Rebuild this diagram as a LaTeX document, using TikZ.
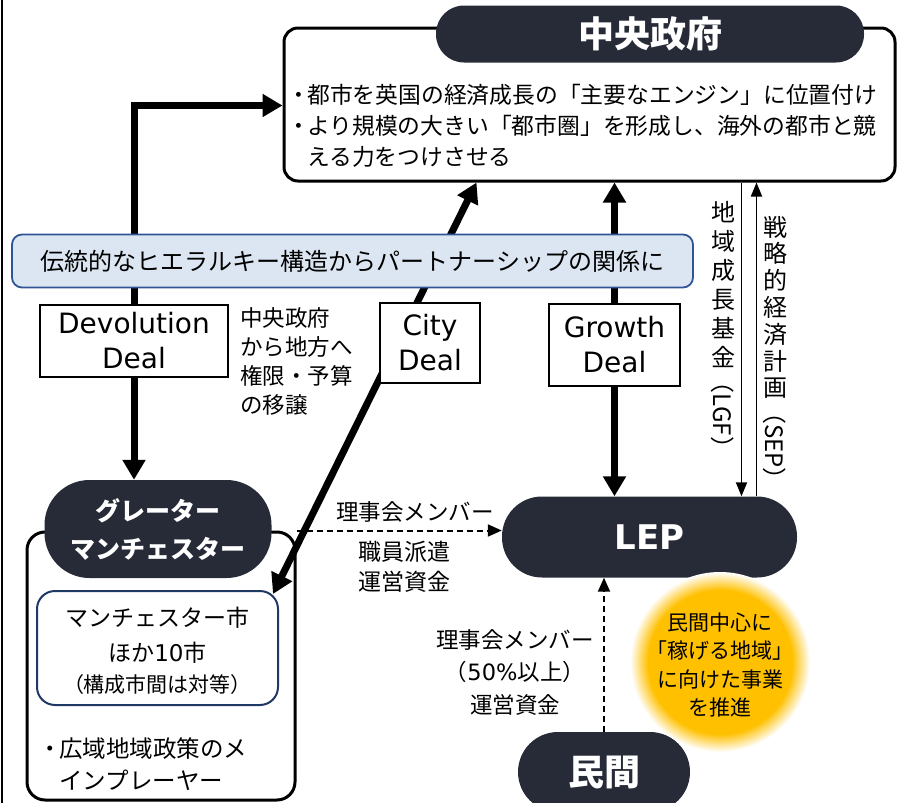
\documentclass[tikz,border=0pt]{standalone}
\usepackage{fontspec}
\setmainfont{Noto Sans CJK JP}
\newfontfamily\latinfont{DejaVu Sans}
\usetikzlibrary{arrows.meta,backgrounds}
\definecolor{pillnavy}{RGB}{38,43,55}
\definecolor{bannerfill}{RGB}{220,230,242}
\definecolor{bannerdraw}{RGB}{47,85,151}
\definecolor{citynavy}{RGB}{31,56,100}
\definecolor{glowgold}{RGB}{255,192,0}
\pgfdeclareradialshading{glow}{\pgfpoint{0bp}{0bp}}{color(0bp)=(glowgold); color(20bp)=(glowgold); color(25bp)=(white); color(50bp)=(white)}
\newcommand{\fs}[2]{\fontsize{#1}{#2}\selectfont}
\newcommand{\jbul}{\makebox[17pt][c]{・}}

\begin{document}
\begin{tikzpicture}[x=1pt,y=-1pt,
	pill/.style={rectangle,rounded corners=#1,fill=pillnavy,text=white,inner sep=0pt,align=center},
	roundbox/.style={rectangle,draw,line width=3pt,rounded corners=#1,inner sep=0pt},
	citybox/.style={rectangle,draw=citynavy,line width=2pt,rounded corners=18pt,inner sep=0pt,align=center},
	dealbox/.style={rectangle,draw,line width=1.5pt,fill=white,inner sep=0pt,align=center,font=\latinfont\fs{28}{35}},
	banner/.style={rectangle,draw=bannerdraw,line width=1.8pt,fill=bannerfill,rounded corners=10pt,inner sep=0pt,font=\fs{24}{28}},
	bigarrow/.style={line width=7pt,-{Triangle[length=20pt,width=22pt]}},
	twoway/.style={line width=7pt,{Triangle[length=20pt,width=22pt]}-{Triangle[length=20pt,width=22pt]}},
	thinarrow/.style={line width=1.8pt,-{Triangle[length=14pt,width=11pt]}},
	dasharrow/.style={line width=2pt,dash pattern=on 6pt off 4pt,-{Triangle[length=14pt,width=12pt]}}]
	\useasboundingbox (0,0) rectangle (898,803);
	\draw[line width=2pt] (1.5,0) -- (1.5,803);
	
	\node[roundbox=14pt,minimum width=611pt,minimum height=153pt] at (589.5,104.5) (gov) {};
	\node[pill=28pt,minimum width=428pt,minimum height=57pt,font=\bfseries\fs{36}{40}] at (650,34) (govtitle) {中央政府};
	\node[anchor=west,align=left,inner sep=0pt,font=\fs{22.8}{31}] at (290,126) (govtext) {\jbul 都市を英国の経済成長の「主要なエンジン」に位置付け\\\jbul より規模の大きい「都市圏」を形成し、海外の都市と競\\\phantom{\jbul}える力をつけさせる};
	
	\node[banner,minimum width=681pt,minimum height=53pt] at (352.5,261) (banner) {伝統的なヒエラルキー構造からパートナーシップの関係に};
	
	\node[dealbox,minimum width=188pt,minimum height=72pt] at (134,341) (devo) {Devolution\\Deal};
	\node[dealbox,minimum width=100pt,minimum height=80pt] at (430,343) (city) {City\\Deal};
	\node[dealbox,minimum width=131pt,minimum height=82pt] at (614.5,345) (growth) {Growth\\Deal};
	\node[anchor=west,align=left,inner sep=0pt,font=\fs{22.5}{29}] at (240,361) (devotext) {中央政府\\から地方へ\\権限・予算\\の移譲};
	
	\node[align=center,inner sep=0pt,font=\fs{24}{29}] at (723,284.5) (lgf) {地\\域\\成\\長\\基\\金};
	\node[rotate=-90,inner sep=0pt,font=\fs{24}{28}] at (723,415) (lgfabbr) {（LGF）};
	\node[align=center,inner sep=0pt,font=\fs{24}{26.8}] at (775,307.5) (sep) {戦\\略\\的\\経\\済\\計\\画};
	\node[rotate=-90,inner sep=0pt,font=\fs{24}{28}] at (775,446) (sepabbr) {（SEP）};
	
	\node[roundbox=18pt,minimum width=268pt,minimum height=268pt] at (161,666) (gmbox) {};
	\node[pill=45pt,minimum width=227pt,minimum height=98pt,font=\bfseries\fs{25}{38}] at (158,529) (gm) {グレーター\\マンチェスター};
	\node[citybox,minimum width=241pt,minimum height=114pt] at (157.5,648) (mcr) {};
	\node[align=center,inner sep=0pt,font=\fs{23}{35}] at (157.5,635.5) (mcrname) {マンチェスター市\\ほか{\latinfont 10}市};
	\node[inner sep=0pt,font=\fs{21}{25}] at (157.5,685) (mcrnote) {（構成市間は対等）};
	\node[anchor=west,align=left,inner sep=0pt,font=\fs{23.5}{32}] at (42,764) (gmtext) {\jbul 広域地域政策のメ\\\phantom{\jbul}インプレーヤー};
	
	\node[pill=40pt,minimum width=295pt,minimum height=81pt,font=\latinfont\bfseries\fs{34}{40}] at (649.5,537) (lep) {LEP};
	\node[pill=40pt,minimum width=172pt,minimum height=80pt,font=\bfseries\fs{36}{40}] at (604,772) (priv) {民間};
	
	\node[inner sep=0pt,font=\fs{22.5}{30}] at (415,512) (boardgm) {理事会メンバー};
	\node[align=center,inner sep=0pt,font=\fs{23}{30}] at (404,567) (staffgm) {職員派遣\\運営資金};
	\node[align=center,inner sep=0pt,font=\fs{22.5}{32.5}] at (515,672) (boardpriv) {理事会メンバー\\（{\latinfont 50\%}以上）\\運営資金};
	
	\shade[shading=glow] (720,662) circle[radius=90pt];
	\node[align=center,inner sep=0pt,font=\fs{21}{28.5}] at (720,665) (glowtext) {民間中心に\\「稼げる地域」\\に向けた事業\\を推進};
	
	\coordinate (citytop) at ([xshift=194pt]gov.south west);
	\coordinate (citybot) at ([xshift=-6pt,yshift=-4pt]mcr.north east);
	\coordinate (lgftop) at ([xshift=459pt]gov.south west);
	\coordinate (septop) at ([xshift=474pt]gov.south west);
	
	\begin{scope}[on background layer]
		\draw[bigarrow] (devo.north) |- ([yshift=-79pt]gov.north west);
		\draw[bigarrow] (devo.south) -- (devo.south |- gm.north);
		\draw[twoway] (citybot) -- (citytop);
		\draw[bigarrow] (growth.north) -- (growth.north |- gov.south);
		\draw[bigarrow] (growth.south) -- (growth.south |- lep.north);
		\draw[thinarrow] (lgftop) -- (lgftop |- lep.north);
		\draw[thinarrow] (septop |- lep.north) -- (septop);
		\draw[dasharrow] (gmbox.north east) -- (gmbox.north east -| lep.west);
		\draw[dasharrow] (priv.north) -- (priv.north |- lep.south);
	\end{scope}
\end{tikzpicture}
\end{document}
